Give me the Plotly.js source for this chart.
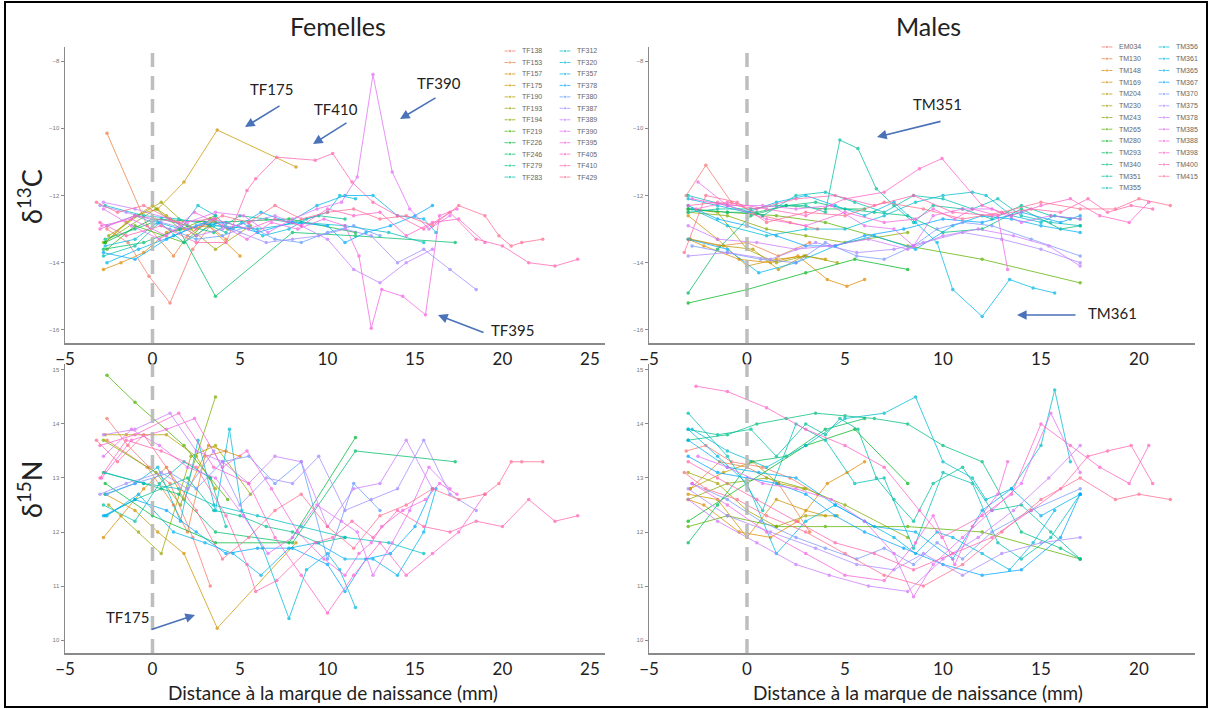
<!DOCTYPE html>
<html><head><meta charset="utf-8">
<script src="https://cdn.plot.ly/plotly-3.0.1.min.js"></script>
<style>html,body{margin:0;padding:0;background:#fff}#chart{width:1211px;height:709px}</style>
</head><body><div id="chart"></div>
<script>
// ---------- DATA ----------
const femNames = ["TF138","TF153","TF157","TF175","TF190","TF193","TF194","TF219","TF226","TF246","TF279","TF283",
  "TF312","TF320","TF357","TF378","TF380","TF387","TF389","TF390","TF395","TF405","TF410","TF429"];
const femX = [
  [-2.6,-1.4,-0.2,1.0,2.3,3.3],
  [-2.6,-0.3,1.2,2.0,3.0,4.2],
  [-2.8,-1.8,-0.5,0.8,1.8,3.2,5.0],
  [-2.7,-1.0,0.3,1.8,3.7,8.2],
  [-2.7,-1.5,0,0.8,2.5,3.6],
  [-2.5,-0.8,0.5,2.2,3.6,5.6],
  [-2.8,0.2,1.6,3.6],
  [-2.6,-1,1.8,3.3,4.3],
  [-2.7,0,3.6,7.8,11.6],
  [-2.8,-0.5,1.5,3.6,8,11.6,17.3],
  [-2.7,-1,0.5,2,3.5,5,6.5,8,9.5,11],
  [-2.8,-1.0,0.4,1.8,3.3,4.2],
  [-2.7,-0.5,1.5,3.5,6,8.5,11,13.5,15.5],
  [-2.7,-1,0.3,1.6,2.6,3.6,4.4,5.1,6.3,7.8,8.8,10,10.7,11.6],
  [-2.6,-0.8,1.2,3.0,4.6,6.2,7.8,9.4,11,12.6,14,15.5,16.2],
  [-2.8,-1.0,0.8,2.5,4.2,6.0,8.0,10.0,11.0,12.2,13.6,15,16],
  [-2.6,-1.0,1.0,2.5,4.0,5.5,7.0,8.5,10.0,11.5,13.0],
  [-3,-1.5,0.5,2,3.5,5,6.5,8,9.5,11,12.5,14,15.5,17,18.5],
  [-2.8,-1,1,2.5,4,5.5,7,8.5,10,11.5,13,14.5,16],
  [-2.8,-1.2,0.4,2,3.6,5.2,6.6,8,9.4,10.8,11.7,12.6,13.7,14.7,15.8,17.0],
  [-2.9,-1.2,0.8,2.4,4.0,5.4,6.8,8.3,9.8,11.0,11.8,12.5,13.1,14.3,15.6,16.4,17.4],
  [-3.0,-1.0,1.5,3.5,5.5,7.0,8.5,10,11.5,13,14.5,16,17.5,19],
  [-3,-1.5,0.5,2.5,4.2,5.4,5.9,7.1,9.3,10.3,11.4,12.6,14,15.5,17,18.5,20,21.5,23,24.3],
  [-3.2,-2,-0.5,1,2.5,4,5.5,7,8.5,10,11.5,13,14.5,16,17.5,19,19.8,20.5,21.1,22.3]
];
const femC = [
  [-13.0,-13.4,-14.4,-15.2,-13.6,-12.9],
  [-10.15,-12.9,-13.8,-13.2,-12.8,-13.3],
  [-14.2,-14.0,-13.7,-13.1,-13.0,-12.9,-13.8],
  [-13.4,-12.6,-12.4,-11.6,-10.05,-11.15],
  [-13.4,-12.8,-12.3,-12.6,-13.2,-12.7],
  [-13.2,-12.6,-12.2,-13.0,-13.6,-12.9],
  [-13.4,-12.4,-13.0,-12.6],
  [-13.6,-12.9,-13.4,-12.7,-13.0],
  [-13.4,-12.7,-12.8,-12.7,-13.1],
  [-13.6,-13.4,-13.0,-15.0,-13.1,-13.2,-13.4],
  [-13.3,-13.0,-12.7,-12.9,-13.1,-12.6,-12.7,-12.8,-12.6,-12.7],
  [-13.8,-13.5,-12.8,-13.4,-12.9,-13.1],
  [-12.3,-12.6,-12.7,-12.9,-13.0,-12.8,-12.9,-13.1,-13.4],
  [-13.5,-13.3,-12.8,-13.0,-12.3,-12.6,-13.0,-12.8,-13.2,-13.0,-12.7,-12.5,-12.0,-12.1],
  [-14.0,-13.6,-13.2,-12.8,-13.0,-12.5,-12.8,-12.3,-12.0,-12.0,-12.6,-12.7,-13.1],
  [-13.7,-13.9,-13.3,-12.9,-12.8,-13.1,-12.8,-12.9,-13.4,-13.1,-12.9,-12.6,-12.3],
  [-12.9,-12.6,-13.0,-13.3,-13.2,-12.9,-13.3,-13.4,-13.1,-12.9,-13.2],
  [-12.3,-12.5,-12.8,-13.0,-12.7,-13.1,-13.4,-13.3,-13.2,-13.0,-13.2,-14.0,-13.6,-14.2,-14.8],
  [-12.2,-12.4,-12.7,-13.2,-13.0,-12.8,-12.6,-12.9,-13.3,-14.2,-14.6,-14.0,-13.6],
  [-12.4,-12.9,-13.3,-12.8,-12.5,-12.6,-13.1,-12.7,-12.4,-12.2,-11.45,-8.4,-11.3,-12.4,-13.0,-12.6],
  [-12.9,-12.7,-13.2,-12.5,-12.9,-13.3,-12.8,-13.0,-12.7,-12.9,-13.8,-15.95,-14.8,-15.0,-15.55,-12.6,-12.4],
  [-13.0,-12.6,-12.8,-12.7,-13.0,-12.7,-12.9,-12.4,-12.6,-12.5,-13.2,-12.8,-12.7,-13.4],
  [-12.8,-13.2,-12.9,-13.4,-13.4,-11.85,-11.5,-10.86,-10.95,-10.75,-11.6,-12.2,-12.6,-13.0,-12.5,-13.3,-13.5,-14.0,-14.1,-13.9],
  [-12.2,-12.5,-12.3,-12.7,-13.0,-12.6,-12.8,-12.3,-12.7,-12.5,-12.4,-12.7,-12.6,-12.9,-12.3,-12.6,-13.2,-13.5,-13.4,-13.3]
];
const femN = [
  [14.1,13.6,13.2,12.9,11.9,11.0],
  [13.7,13.2,12.5,12.0,13.4,13.5],
  [11.9,12.3,12.8,13.2,12.6,13.6,13.4],
  [12.7,12.4,12.0,11.6,10.22,11.8],
  [13.8,13.8,13.8,13.8,13.4,12.8],
  [12.5,12.0,11.6,13.4,13.6,12.7],
  [13.7,13.1,12.5,14.5],
  [14.9,14.4,13.6,13.0,12.6],
  [12.9,12.3,11.8,11.8,13.75],
  [13.1,12.9,12.7,12.0,11.8,13.5,13.3],
  [12.3,12.6,12.8,13.0,12.4,12.3,12.1,12.0,11.8,11.9],
  [12.5,12.2,12.9,13.3,13.0,12.1],
  [13.1,12.9,12.8,12.5,12.3,12.1,11.9,11.8,11.6],
  [12.7,12.9,13.2,12.2,13.7,12.4,13.9,12.4,11.7,10.4,11.3,11.6,11.3,10.6],
  [12.3,12.7,12.0,11.8,11.6,11.2,11.7,11.8,11.5,11.5,11.2,12.0,12.8],
  [12.3,12.6,12.4,12.0,11.6,11.7,11.7,11.4,10.9,11.5,11.6,12.1,12.8],
  [12.7,12.9,13.1,12.8,13.3,13.4,12.9,13.3,11.5,12.9,12.4],
  [12.7,12.9,13.1,12.8,13.5,12.5,13.0,12.9,13.4,12.4,12.6,12.8,13.7,12.7,12.4],
  [13.8,13.9,14.2,13.5,13.3,12.9,13.4,13.3,12.1,12.8,12.9,13.7,12.8],
  [13.4,13.9,13.6,13.2,13.0,12.3,11.6,11.9,12.5,12.2,12.0,11.2,11.8,12.4,13.2,12.8],
  [13.0,13.7,13.9,14.1,13.2,13.5,12.8,12.0,11.5,11.2,11.6,11.8,12.1,12.4,12.6,12.9,12.7],
  [13.6,13.8,14.2,13.2,12.9,11.9,11.2,10.5,11.2,11.8,11.2,11.6,12.0,12.7],
  [13.0,13.7,13.5,13.2,12.3,11.4,10.9,11.1,11.8,11.9,12.2,11.9,12.4,12.1,12.0,12.2,12.1,12.6,12.2,12.3],
  [13.7,13.3,13.8,13.1,12.4,11.5,11.9,12.4,12.7,12.1,11.7,12.3,12.5,12.8,12.6,12.7,12.9,13.3,13.3,13.3]
];

const maleNames = ["EM034","TM130","TM148","TM169","TM204","TM230","TM243","TM265","TM280","TM293","TM340","TM351","TM355",
  "TM356","TM361","TM365","TM367","TM370","TM375","TM378","TM385","TM388","TM398","TM400","TM415"];
const maleX = [
  [-3.1,-2.1,-0.8,0.8,2.2,3.6],
  [-2.9,-1.4,0,1.6,3.2],
  [-3.0,-2.2,-0.4,1.2,2.6,4.1,5.1,6.0],
  [-3.0,-1.5,0,1.5,3.0,4.0],
  [-2.9,-1.2,0.3,1.6,2.9],
  [-3,-1.5,0,1.5,3,4.6],
  [-3,-1,1,3,5,8.2],
  [-3,-1,1.5,4,8.2,12,17],
  [-3,0,3,5.5,8.2],
  [-3,-1.5,0.2,2,4,6],
  [-3,-1,0.5,2,3.5,5,6.5,8.2,10,12,14,16,17],
  [-3,-1.5,0.2,1.5,3,4.0,4.74,5.66,6.6,7.5,8.5,9.5,11,12.5,14,15.5,17],
  [-3,-1,0.8,2.5,4,5.5,7,8.5,10,11.5,12.8,14,15.5,17],
  [-2.8,-1,1,3,5,7,8.6,10,11.5,12.2,13.5,15,15.7,16.5],
  [-3,-1.5,0,1.5,3,4.5,6,7.5,8.6,9.7,10.5,12.0,13.4,14.6,15.7],
  [-3,-1,0.6,2.5,4.5,6.5,8.6,10.5,12,13.5,15,17],
  [-3,-1.5,0,1.5,3,4.5,6,8,10,12,14,16,17],
  [-2.8,-1,0.7,2.5,4,5.6,7,8.5,9.7,11.0,12.5,14.5,17],
  [-3,-1,1.2,3.5,5.6,7.5,9,11,13,15,17],
  [-3,-1.5,0.5,2.5,4.2,6.2,8.2,10,11.8,13.6,15.4,17],
  [-2.5,-1,0.8,2.5,4.3,6,7.5,8.5,9.5,11,12.5,14,15.5,17],
  [-2.8,-1,1,3,5,7,8.6,9.5,10.6,11.5,12.8,13.3],
  [-2.6,-1,1,3,5,7,8.8,9.95,12,13.5,15,16.5,18,19.5,20.5],
  [-3,-1.5,0.5,2.5,4.5,6.5,8.5,10.5,12.5,14.5,16,17.4,18.4,19.6,20.7],
  [-3.2,-2.1,-0.5,1,3,5,7,9,11,13,15,17,18.8,20,21.6]
];
const maleC = [
  [-12.0,-11.1,-12.2,-12.6,-12.8,-13.0],
  [-13.3,-13.5,-13.4,-13.8,-13.4],
  [-13.3,-13.5,-13.9,-14.0,-13.8,-14.5,-14.7,-14.5],
  [-12.6,-13.3,-14.1,-13.9,-13.8,-13.9],
  [-13.3,-13.5,-13.6,-14.2,-13.8],
  [-12.4,-12.5,-13.6,-14.0,-13.8,-14.0],
  [-12.5,-12.6,-13.0,-13.2,-13.4,-13.1],
  [-12.4,-12.5,-12.6,-12.8,-13.5,-13.9,-14.6],
  [-15.2,-14.8,-14.3,-13.9,-14.2],
  [-14.9,-13.6,-12.6,-12.3,-12.4,-12.4],
  [-12.4,-12.5,-12.5,-12.3,-12.2,-12.4,-12.5,-12.6,-13.1,-13.0,-12.4,-13.0,-12.9],
  [-12.5,-12.4,-12.4,-12.3,-12.3,-12.5,-10.35,-10.6,-11.8,-12.3,-12.8,-12.3,-12.4,-12.7,-12.3,-12.6,-12.7],
  [-12.0,-12.3,-12.6,-12.0,-11.9,-12.2,-12.5,-12.0,-12.1,-12.4,-12.1,-12.6,-12.8,-12.9],
  [-12.4,-12.9,-13.2,-13.0,-13.0,-12.6,-12.2,-12.0,-11.9,-12.0,-12.6,-12.8,-12.6,-12.7],
  [-12.1,-12.3,-12.5,-12.2,-12.0,-12.3,-12.6,-12.2,-12.8,-13.4,-14.8,-15.6,-14.5,-14.75,-14.9],
  [-13.3,-13.6,-14.3,-14.0,-13.5,-13.2,-13.6,-12.9,-12.6,-12.7,-12.9,-13.1],
  [-12.3,-12.7,-12.9,-13.2,-13.5,-13.5,-13.2,-13.0,-12.7,-12.8,-12.5,-12.8,-12.6],
  [-13.5,-13.7,-13.9,-14.0,-13.4,-13.8,-13.9,-13.5,-13.0,-12.8,-12.9,-13.3,-13.8],
  [-13.8,-13.7,-13.9,-13.4,-13.7,-13.6,-13.4,-13.1,-13.3,-13.6,-14.0],
  [-12.9,-13.3,-13.4,-13.6,-13.5,-13.3,-13.6,-13.2,-13.0,-13.2,-13.5,-14.1],
  [-11.6,-12.3,-12.3,-12.4,-12.3,-12.9,-13.0,-13.5,-12.6,-12.4,-12.4,-12.8,-12.6,-12.7],
  [-12.1,-12.3,-12.7,-12.9,-12.5,-12.8,-12.7,-12.4,-12.7,-12.4,-12.6,-14.2],
  [-12.4,-12.2,-12.4,-12.6,-12.1,-11.9,-11.2,-10.9,-12.3,-12.6,-12.3,-12.1,-12.6,-12.8,-12.2],
  [-12.3,-12.2,-12.4,-12.1,-12.0,-12.3,-12.0,-12.5,-12.6,-12.4,-12.5,-12.1,-12.5,-12.3,-12.4],
  [-13.7,-12.0,-12.2,-12.8,-12.5,-12.6,-12.2,-12.4,-12.7,-12.5,-12.2,-12.4,-12.4,-12.1,-12.3]
];
const maleN = [
  [13.5,13.6,13.3,13.2,13.0,12.7],
  [12.8,13.3,13.2,12.9,12.0],
  [12.6,12.5,12.0,11.9,12.2,12.9,13.1,13.3],
  [12.7,12.6,11.9,12.6,12.4,12.3],
  [12.8,13.1,13.3,12.9,12.8],
  [13.1,12.9,12.4,12.1,12.3,12.3],
  [12.6,12.9,13.0,12.8,12.5,11.9],
  [12.1,12.3,12.1,12.1,12.1,12.0,11.5],
  [12.2,12.9,13.6,13.9,12.9],
  [11.8,12.5,13.3,13.4,13.9,14.1],
  [13.7,13.8,14.0,14.1,14.2,14.15,14.1,14.0,13.6,13.3,12.0,11.7,11.5],
  [13.9,13.8,13.9,13.4,14.0,13.8,14.1,13.9,13.0,12.6,12.2,12.9,13.2,12.4,12.5,12.0,11.5],
  [14.2,13.4,12.4,14.0,13.7,12.9,13.0,11.7,13.1,12.9,11.8,11.5,11.9,12.7],
  [13.9,13.5,13.2,13.6,14.1,14.2,14.5,13.3,13.0,12.6,12.8,13.6,14.63,13.3],
  [13.9,13.4,12.9,11.6,12.2,12.5,12.2,11.9,11.6,12.0,11.9,11.6,11.3,11.8,12.4],
  [13.7,13.2,13.1,13.0,12.5,12.1,12.0,11.5,12.4,12.8,12.3,12.7],
  [13.4,13.1,13.0,12.9,12.7,12.3,12.0,11.7,11.4,11.2,11.3,11.9,12.7],
  [12.9,12.6,12.2,11.9,11.7,11.5,11.7,11.4,11.8,11.5,12.0,12.4,12.8],
  [12.8,12.3,12.0,11.7,11.4,11.3,11.6,11.2,11.6,11.8,11.9],
  [12.6,12.2,11.8,11.4,11.2,11.0,10.9,11.5,11.9,12.4,13.0,13.6],
  [13.4,13.2,12.9,12.8,12.6,12.2,11.6,10.8,11.4,11.9,12.4,12.9,14.2,13.1],
  [12.9,12.5,12.0,11.6,11.2,11.1,11.8,12.3,11.4,12.1,12.7,13.3],
  [14.7,14.6,14.3,13.9,13.6,13.2,12.4,11.9,12.3,12.7,14.0,13.6,13.2,12.9,13.6],
  [13.3,13.0,12.6,12.2,11.8,11.6,11.3,11.6,11.9,12.4,12.8,13.4,13.5,13.6,12.9],
  [13.1,12.8,12.6,12.3,12.0,11.6,11.2,11.0,11.4,12.0,12.6,13.0,12.6,12.7,12.6]
];

// ---------- COLOURS (ggplot2 hue palette) ----------
function hcl2hex(h, c, l) {
  const hr = h * Math.PI / 180, u = c * Math.cos(hr), v = c * Math.sin(hr);
  const Xn = 95.047, Yn = 100, Zn = 108.883;
  const Y = Yn * Math.pow((l + 16) / 116, 3);
  const den = Xn + 15 * Yn + 3 * Zn, un = 4 * Xn / den, vn = 9 * Yn / den;
  const up = u / (13 * l) + un, vp = v / (13 * l) + vn;
  const X = Y * 9 * up / (4 * vp), Z = Y * (12 - 3 * up - 20 * vp) / (4 * vp);
  const x = X / 100, y = Y / 100, z = Z / 100;
  let rgb = [3.2404542*x - 1.5371385*y - 0.4985314*z,
            -0.9692660*x + 1.8760108*y + 0.0415560*z,
             0.0556434*x - 0.2040259*y + 1.0572252*z];
  rgb = rgb.map(v => { v = v <= 0.0031308 ? 12.92 * v : 1.055 * Math.pow(v, 1/2.4) - 0.055;
    v = Math.max(0, Math.min(1, v)); return Math.round(v * 255).toString(16).padStart(2, '0'); });
  return '#' + rgb.join('');
}
function huePal(n) { return Array.from({length: n}, (_, i) => hcl2hex(15 + 360 * i / n, 100, 65)); }
const femCol = huePal(femNames.length), maleCol = huePal(maleNames.length);

// ---------- TRACES ----------
const traces = [];
function addSeries(names, xs, ys, cols, xa, ya) {
  names.forEach((nm, i) => traces.push({
    type: 'scatter', mode: 'lines+markers', name: nm, x: xs[i], y: ys[i], xaxis: xa, yaxis: ya,
    line: {color: cols[i], width: 1}, marker: {color: cols[i], size: 3.5}, opacity: 0.75,
    showlegend: false, hoverinfo: 'name+x+y'
  }));
}
addSeries(femNames, femX, femC, femCol, 'x', 'y');
addSeries(maleNames, maleX, maleC, maleCol, 'x2', 'y2');
addSeries(femNames, femX, femN, femCol, 'x3', 'y3');
addSeries(maleNames, maleX, maleN, maleCol, 'x4', 'y4');

// legend keys (drawn on small helper axes so rows can be tight)
function addKeys(names, cols, start, count, xa, ya) {
  for (let k = 0; k < count; k++) {
    const i = start + k;
    traces.push({type: 'scatter', mode: 'lines+markers', x: [0, 1, 2], y: [k, k, k], xaxis: xa, yaxis: ya,
      line: {color: cols[i], width: 1}, marker: {color: cols[i], size: [0, 3.5, 0]}, opacity: 0.75,
      showlegend: false, hoverinfo: 'skip'});
  }
}
addKeys(femNames, femCol, 0, 12, 'x5', 'y5');
addKeys(femNames, femCol, 12, 12, 'x6', 'y6');
addKeys(maleNames, maleCol, 0, 13, 'x7', 'y7');
addKeys(maleNames, maleCol, 13, 12, 'x8', 'y8');

// ---------- LAYOUT ----------
const W = 1211, H = 709;
const fx = v => v / W, fy = v => 1 - v / H;
const FONT = 'Lato, "Open Sans", sans-serif';

function xAx(l, r, rng, anchor) {
  return {domain: [fx(l), fx(r)], range: rng, anchor: anchor, dtick: 5, tick0: 0,
    showline: true, linecolor: '#8a8a8a', linewidth: 1.5, showgrid: false, zeroline: false,
    ticks: '', tickfont: {family: FONT, size: 17, color: '#222'}, fixedrange: true};
}
function yAx(t, b, rng, dt, anchor) {
  return {domain: [fy(b), fy(t)], range: rng, anchor: anchor, dtick: dt,
    showline: true, linecolor: '#8a8a8a', linewidth: 1.5, showgrid: false, zeroline: false,
    ticks: 'outside', ticklen: 3, tickcolor: '#8a8a8a',
    tickfont: {family: 'Liberation Sans, Arial', size: 6, color: '#777'}, fixedrange: true};
}
function keyX(l, r, anchor) {
  return {domain: [fx(l), fx(r)], range: [-0.3, 2.3], anchor: anchor, visible: false, fixedrange: true};
}
function keyY(t, b, n, names, start, count, anchor) {
  const vals = [], txt = [];
  for (let k = 0; k < count; k++) { vals.push(k); txt.push(names[start + k]); }
  return {domain: [fy(b), fy(t)], range: [n - 0.5, -0.5], anchor: anchor, side: 'right',
    tickvals: vals, ticktext: txt, showline: false, showgrid: false, zeroline: false, ticks: '',
    ticklabelstandoff: 4, tickfont: {family: 'Liberation Sans, Arial', size: 7, color: '#666'}, fixedrange: true};
}

const C_RANGE = [-16.39, -7.58], N_RANGE = [9.76, 15.15];
const F_RANGE = [-5, 25.86], M_RANGE = [-5, 22.86];

function arrow(hx, hy, tx, ty) {
  return {x: fx(hx), y: fy(hy), xref: 'paper', yref: 'paper', ax: tx - hx, ay: ty - hy,
    showarrow: true, arrowhead: 2, arrowsize: 1.2, arrowwidth: 1.6, arrowcolor: '#4a72b8', text: ''};
}
function label(txt, x, y, size, extra) {
  return Object.assign({x: fx(x), y: fy(y), xref: 'paper', yref: 'paper', text: txt, showarrow: false,
    xanchor: 'center', yanchor: 'middle', font: {family: FONT, size: size, color: '#222'}}, extra || {});
}

const annotations = [
  label('Femelles', 338, 26, 25),
  label('Males', 928, 26, 25),
  label('δ<sup>13</sup>C', 30, 197, 27, {textangle: -90}),
  label('δ<sup>15</sup>N', 30, 490, 27, {textangle: -90}),
  label('Distance à la marque de naissance (mm)', 333, 692, 19),
  label('Distance à la marque de naissance (mm)', 918, 692, 19),
  label('TF175', 271, 89, 15), arrow(245, 127, 281, 105),
  label('TF410', 336, 109, 15), arrow(313, 144, 348, 122),
  label('TF390', 439, 83, 15), arrow(400, 119, 437, 97),
  label('TF395', 512, 330, 15), arrow(438, 315, 485, 333),
  label('TM351', 938, 104, 15), arrow(877, 137, 942, 121),
  label('TM361', 1112, 313, 15), arrow(1017, 315, 1077, 315),
  label('TF175', 127, 617, 15), arrow(195, 615, 150, 630)
];

function vdash(xa, ya) {
  return {type: 'line', xref: xa, yref: ya + ' domain', x0: 0, x1: 0, y0: 0, y1: 1,
    line: {color: '#b8b8b8', width: 3.5, dash: '14px,9px'}, opacity: 0.9};
}
const shapes = [vdash('x', 'y'), vdash('x2', 'y2'), vdash('x3', 'y3'), vdash('x4', 'y4'),
  {type: 'rect', xref: 'paper', yref: 'paper', x0: fx(5), x1: fx(1207), y0: fy(707), y1: fy(2),
   line: {color: '#000', width: 2}}];

const layout = {
  width: W, height: H, margin: {l: 0, r: 0, t: 0, b: 0}, showlegend: false,
  paper_bgcolor: '#fff', plot_bgcolor: 'rgba(0,0,0,0)',
  xaxis: xAx(65, 605, F_RANGE, 'y'), yaxis: yAx(47, 343, C_RANGE, 2, 'x'),
  xaxis2: xAx(649, 1195, M_RANGE, 'y2'), yaxis2: yAx(47, 343, C_RANGE, 2, 'x2'),
  xaxis3: xAx(65, 605, F_RANGE, 'y3'), yaxis3: yAx(364, 653, [9.76, 15.11], 1, 'x3'),
  xaxis4: xAx(649, 1195, M_RANGE, 'y4'), yaxis4: yAx(364, 653, [9.76, 15.11], 1, 'x4'),
  xaxis5: keyX(503, 517, 'y5'), yaxis5: keyY(45.3, 182.8, 12, femNames, 0, 12, 'x5'),
  xaxis6: keyX(558, 572, 'y6'), yaxis6: keyY(45.3, 182.8, 12, femNames, 12, 12, 'x6'),
  xaxis7: keyX(1100, 1114, 'y7'), yaxis7: keyY(41.1, 193.9, 13, maleNames, 0, 13, 'x7'),
  xaxis8: keyX(1157, 1171, 'y8'), yaxis8: keyY(41.1, 193.9, 13, maleNames, 13, 12, 'x8'),
  annotations: annotations, shapes: shapes
};

Plotly.newPlot('chart', traces, layout, {displayModeBar: false, staticPlot: true});
</script>
</body></html>
